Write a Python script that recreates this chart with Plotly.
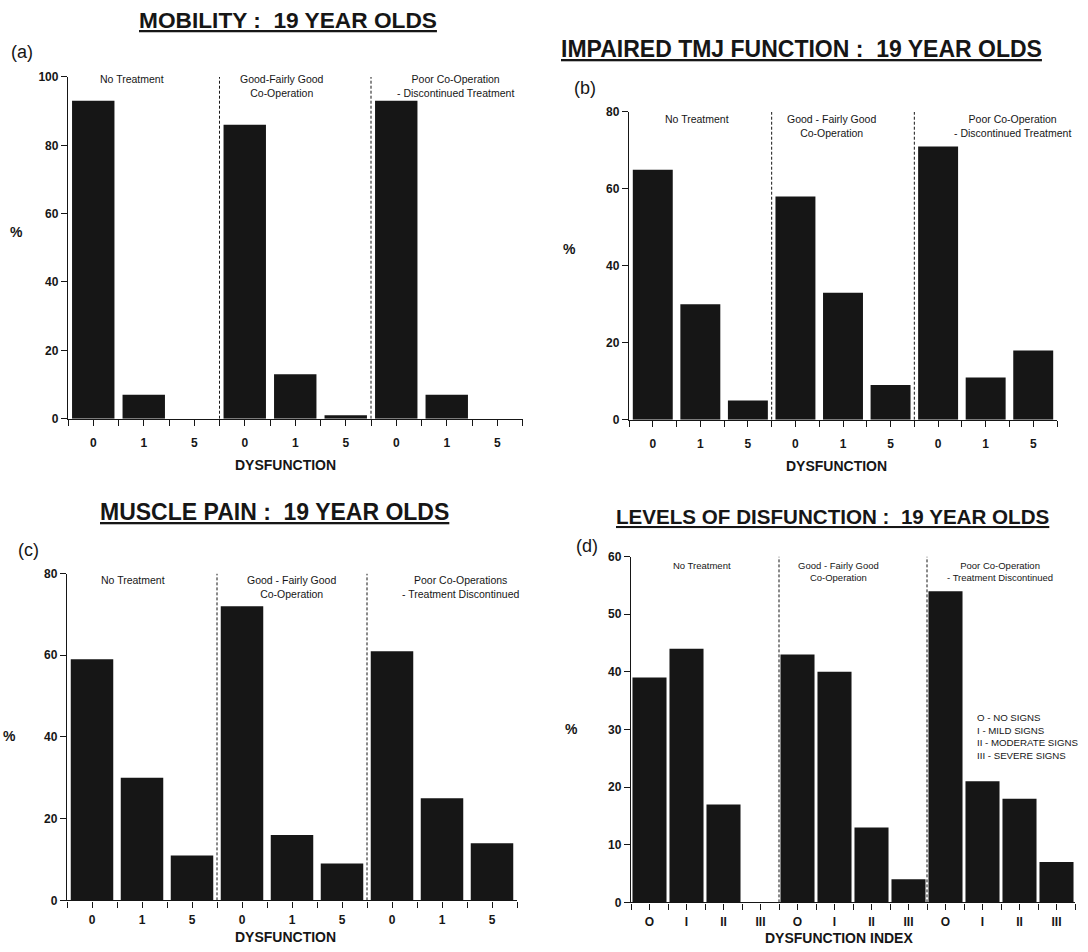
import plotly.graph_objects as go

W, H = 1088, 952

# ---------------- data ----------------
dys_ticks = ["0", "1", "5", "0", "1", "5", "0", "1", "5"]
index_ticks = ["O", "I", "II", "III", "O", "I", "II", "III", "O", "I", "II", "III"]

mobility_pct = [93, 7, 0, 86, 13, 1, 93, 7, 0]
tmj_pct = [65, 30, 5, 58, 33, 9, 71, 11, 18]
muscle_pct = [59, 30, 11, 72, 16, 9, 61, 25, 14]
levels_pct = [39, 44, 17, 0, 43, 40, 13, 4, 54, 21, 18, 7]

titles = ["MOBILITY :  19 YEAR OLDS", "IMPAIRED TMJ FUNCTION :  19 YEAR OLDS",
          "MUSCLE PAIN :  19 YEAR OLDS", "LEVELS OF DISFUNCTION :  19 YEAR OLDS"]
panel_tags = ["(a)", "(b)", "(c)", "(d)"]
x_titles = ["DYSFUNCTION", "DYSFUNCTION", "DYSFUNCTION", "DYSFUNCTION INDEX"]

groups_a = ["No Treatment", "Good-Fairly Good<br>Co-Operation", "Poor Co-Operation<br>- Discontinued Treatment"]
groups_b = ["No Treatment", "Good - Fairly Good<br>Co-Operation", "Poor Co-Operation<br>- Discontinued Treatment"]
groups_c = ["No Treatment", "Good - Fairly Good<br>Co-Operation", "Poor Co-Operations<br>- Treatment Discontinued"]
groups_d = ["No Treatment", "Good - Fairly Good<br>Co-Operation", "Poor Co-Operation<br>- Treatment Discontinued"]
legend_d = ["O - NO SIGNS", "I - MILD SIGNS", "II - MODERATE SIGNS", "III - SEVERE SIGNS"]

y_ticks_a = [0, 20, 40, 60, 80, 100]
y_ticks_bc = [0, 20, 40, 60, 80]
y_ticks_d = [0, 10, 20, 30, 40, 50, 60]

# ---------------- layout helpers ----------------
FONT = "Liberation Sans, Arial, Helvetica, sans-serif"
INK = "#161616"


def px(x):
    return x / W


def py(t):
    # target pixel row -> paper fraction (small vertical correction of the capture)
    y = (t - 5) / 0.986
    return 1 - y / H


panels = [
    dict(vals=mobility_pct, ticks=dys_ticks, yt=y_ticks_a, ymax=100, xd=(68, 522.5), yd=(75, 417),
         div=[2.5, 5.5], bw=0.84, groups=groups_a, gx=[132, 282, 455], gy=76, gfs=10.5, so=7,
         title_xy=(288, 18), tsz=22.7, tag_xy=(22, 50), pct_xy=(16, 230), xt_xy=(285, 463)),
    dict(vals=tmj_pct, ticks=dys_ticks, yt=y_ticks_bc, ymax=80, xd=(629, 1057), yd=(110, 418),
         div=[2.5, 5.5], bw=0.84, groups=groups_b, gx=[697, 831, 1012], gy=116, gfs=10.5, so=7,
         title_xy=(801, 47), tsz=23, tag_xy=(585, 86), pct_xy=(569, 247), xt_xy=(836, 464)),
    dict(vals=muscle_pct, ticks=dys_ticks, yt=y_ticks_bc, ymax=80, xd=(67, 517), yd=(572, 899),
         div=[2.5, 5.5], bw=0.85, groups=groups_c, gx=[133, 291, 460], gy=577, gfs=10.5, so=2,
         title_xy=(274, 510), tsz=23, tag_xy=(28, 548), pct_xy=(9, 735), xt_xy=(285, 936)),
    dict(vals=levels_pct, ticks=index_ticks, yt=y_ticks_d, ymax=60, xd=(631, 1075), yd=(555, 901),
         div=[3.5, 7.5], bw=0.92, groups=groups_d, gx=[702, 838, 1000], gy=563, gfs=9.5, so=2,
         title_xy=(832, 515), tsz=20.6, tag_xy=(587, 544), pct_xy=(571, 728), xt_xy=(839, 937)),
]

fig = go.Figure()
annotations = []
shapes = []
layout_axes = {}

for i, p in enumerate(panels):
    n = len(p["vals"])
    xs = list(range(n))
    xa = "x" if i == 0 else f"x{i+1}"
    ya = "y" if i == 0 else f"y{i+1}"
    fig.add_trace(go.Bar(x=xs, y=p["vals"], xaxis=xa, yaxis=ya, width=p["bw"],
                         marker=dict(color=INK, line=dict(width=0)), showlegend=False,
                         hoverinfo="skip"))
    tv, tt = [], []
    for k in range(n):
        tv += [k - 0.5, k]
        tt += ["", p["ticks"][k]]
    tv.append(n - 0.5)
    tt.append("")
    xkey = "xaxis" if i == 0 else f"xaxis{i+1}"
    ykey = "yaxis" if i == 0 else f"yaxis{i+1}"
    layout_axes[xkey] = dict(
        domain=[px(p["xd"][0]), px(p["xd"][1])], range=[-0.5, n - 0.5], anchor=ya,
        showline=True, linecolor=INK, linewidth=1.3, ticks="outside", ticklen=6,
        tickwidth=1.2, tickcolor=INK, tickmode="array", tickvals=tv, ticktext=tt,
        tickfont=dict(family=FONT, size=12, color=INK, weight="bold"),
        ticklabelstandoff=p["so"], showgrid=False, zeroline=False, fixedrange=True)
    layout_axes[ykey] = dict(
        domain=[py(p["yd"][1]), py(p["yd"][0])], range=[0, p["ymax"]], anchor=xa,
        showline=True, linecolor=INK, linewidth=1.3, ticks="outside", ticklen=6,
        tickwidth=1.2, tickcolor=INK, tickmode="array", tickvals=p["yt"],
        tickfont=dict(family=FONT, size=12, color=INK, weight="bold"),
        showgrid=False, zeroline=False, fixedrange=True)

    for d in p["div"]:
        shapes.append(dict(type="line", xref=xa, yref=ya, x0=d, x1=d, y0=0, y1=p["ymax"],
                           line=dict(color=INK, width=1, dash="3px,2px")))

    tx, tyy = p["title_xy"]
    annotations.append(dict(text=f"<b><u>{titles[i]}</u></b>", x=px(tx), y=py(tyy),
                            xref="paper", yref="paper", xanchor="center", yanchor="middle",
                            showarrow=False, font=dict(family=FONT, size=p["tsz"], color=INK)))
    gx, gy = p["tag_xy"]
    annotations.append(dict(text=panel_tags[i], x=px(gx), y=py(gy), xref="paper", yref="paper",
                            xanchor="center", yanchor="middle", showarrow=False,
                            font=dict(family=FONT, size=18, color=INK)))
    ax_, ay_ = p["pct_xy"]
    annotations.append(dict(text="<b>%</b>", x=px(ax_), y=py(ay_), xref="paper", yref="paper",
                            xanchor="center", yanchor="middle", showarrow=False,
                            font=dict(family=FONT, size=14, color=INK)))
    xx, xy = p["xt_xy"]
    annotations.append(dict(text=f"<b>{x_titles[i]}</b>", x=px(xx), y=py(xy), xref="paper",
                            yref="paper", xanchor="center", yanchor="middle", showarrow=False,
                            font=dict(family=FONT, size=14, color=INK)))
    for g, gxx in zip(p["groups"], p["gx"]):
        annotations.append(dict(text=g, x=px(gxx), y=py(p["gy"] - p["gfs"] * 0.65),
                                xref="paper", yref="paper", xanchor="center", yanchor="top",
                                align="center", showarrow=False,
                                font=dict(family=FONT, size=p["gfs"], color=INK)))

annotations.append(dict(text="<br>".join(legend_d), x=px(975), y=py(709), xref="paper",
                        yref="paper", xanchor="left", yanchor="top", align="left",
                        showarrow=False, font=dict(family=FONT, size=9.7, color=INK)))

fig.update_layout(
    width=W, height=H, margin=dict(l=0, r=0, t=0, b=0),
    paper_bgcolor="white", plot_bgcolor="white", bargap=0.1, hovermode=False,
    annotations=annotations, shapes=shapes, showlegend=False,
    **layout_axes)

fig.write_html("out.html", config={"displayModeBar": False},
               post_script="document.body.style.margin='0px';document.body.style.overflow='hidden';")
